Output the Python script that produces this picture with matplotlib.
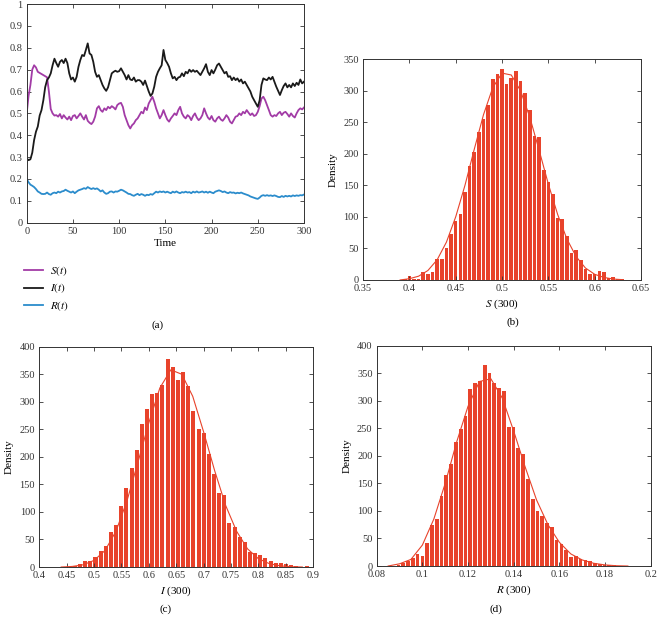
import numpy as np
import matplotlib
matplotlib.use('Agg')
import matplotlib.pyplot as plt

plt.rcParams['font.family'] = 'Liberation Serif'
plt.rcParams['mathtext.fontset'] = 'stix'

t = np.arange(0, 301, 2)

S_t = [0.500, 0.580, 0.630, 0.700, 0.720, 0.710, 0.690, 0.685, 0.680, 0.675,
       0.670, 0.665, 0.600, 0.520, 0.500, 0.490, 0.492, 0.485, 0.497, 0.477,
       0.492, 0.481, 0.472, 0.485, 0.469, 0.488, 0.492, 0.477, 0.488, 0.500,
       0.485, 0.472, 0.492, 0.466, 0.457, 0.451, 0.462, 0.485, 0.523, 0.533,
       0.515, 0.507, 0.523, 0.515, 0.530, 0.523, 0.533, 0.527, 0.518, 0.538,
       0.545, 0.548, 0.530, 0.492, 0.469, 0.446, 0.431, 0.446, 0.454, 0.469,
       0.477, 0.492, 0.507, 0.500, 0.527, 0.515, 0.545, 0.560, 0.576, 0.553,
       0.523, 0.500, 0.477, 0.492, 0.515, 0.492, 0.472, 0.462, 0.477, 0.488,
       0.500, 0.492, 0.515, 0.530, 0.500, 0.485, 0.477, 0.492, 0.485, 0.469,
       0.488, 0.500, 0.481, 0.469, 0.477, 0.492, 0.523, 0.500, 0.481, 0.472,
       0.488, 0.469, 0.462, 0.477, 0.485, 0.472, 0.466, 0.477, 0.492, 0.481,
       0.462, 0.454, 0.469, 0.485, 0.488, 0.500, 0.492, 0.507, 0.500, 0.515,
       0.503, 0.492, 0.500, 0.488, 0.492, 0.507, 0.533, 0.568, 0.576, 0.560,
       0.538, 0.515, 0.492, 0.485, 0.492, 0.488, 0.500, 0.507, 0.492, 0.503,
       0.507, 0.497, 0.485, 0.500, 0.488, 0.481, 0.500, 0.515, 0.523, 0.518,
       0.527]

I_t = [0.294, 0.286, 0.290, 0.320, 0.378, 0.416, 0.440, 0.490, 0.515, 0.560,
       0.620, 0.652, 0.664, 0.683, 0.720, 0.750, 0.730, 0.713, 0.736, 0.744,
       0.730, 0.750, 0.730, 0.683, 0.655, 0.664, 0.645, 0.667, 0.713, 0.744,
       0.767, 0.762, 0.790, 0.820, 0.774, 0.767, 0.736, 0.690, 0.667, 0.675,
       0.652, 0.630, 0.614, 0.603, 0.619, 0.652, 0.683, 0.690, 0.695, 0.690,
       0.693, 0.706, 0.690, 0.675, 0.655, 0.675, 0.655, 0.652, 0.664, 0.645,
       0.652, 0.652, 0.645, 0.630, 0.650, 0.625, 0.600, 0.580, 0.591, 0.622,
       0.667, 0.690, 0.706, 0.720, 0.790, 0.744, 0.730, 0.713, 0.683, 0.660,
       0.667, 0.652, 0.664, 0.667, 0.683, 0.670, 0.690, 0.683, 0.700, 0.690,
       0.698, 0.690, 0.695, 0.685, 0.675, 0.690, 0.706, 0.725, 0.690, 0.675,
       0.698, 0.683, 0.700, 0.720, 0.728, 0.713, 0.698, 0.683, 0.690, 0.667,
       0.670, 0.652, 0.664, 0.652, 0.660, 0.645, 0.655, 0.637, 0.645, 0.630,
       0.614, 0.600, 0.576, 0.560, 0.545, 0.530, 0.560, 0.630, 0.660, 0.655,
       0.652, 0.664, 0.655, 0.667, 0.645, 0.622, 0.603, 0.584, 0.606, 0.625,
       0.637, 0.619, 0.630, 0.619, 0.637, 0.625, 0.640, 0.630, 0.655, 0.637,
       0.645]

R_t = [0.200, 0.185, 0.174, 0.169, 0.163, 0.154, 0.143, 0.138, 0.132, 0.131,
       0.132, 0.138, 0.131, 0.128, 0.135, 0.138, 0.135, 0.142, 0.138, 0.143,
       0.145, 0.151, 0.146, 0.142, 0.138, 0.143, 0.135, 0.142, 0.148, 0.151,
       0.154, 0.158, 0.155, 0.163, 0.158, 0.154, 0.158, 0.154, 0.157, 0.151,
       0.143, 0.148, 0.138, 0.132, 0.135, 0.142, 0.143, 0.138, 0.143, 0.142,
       0.146, 0.151, 0.148, 0.143, 0.138, 0.132, 0.131, 0.126, 0.123, 0.128,
       0.132, 0.126, 0.131, 0.128, 0.123, 0.128, 0.126, 0.131, 0.128, 0.135,
       0.142, 0.138, 0.143, 0.140, 0.143, 0.138, 0.142, 0.138, 0.135, 0.142,
       0.138, 0.143, 0.138, 0.135, 0.140, 0.138, 0.142, 0.138, 0.140, 0.135,
       0.142, 0.138, 0.143, 0.138, 0.140, 0.143, 0.138, 0.142, 0.137, 0.142,
       0.138, 0.135, 0.142, 0.145, 0.148, 0.145, 0.140, 0.143, 0.138, 0.135,
       0.140, 0.137, 0.138, 0.134, 0.137, 0.135, 0.138, 0.134, 0.131, 0.128,
       0.125, 0.120, 0.117, 0.114, 0.111, 0.109, 0.115, 0.123, 0.126, 0.123,
       0.126, 0.123, 0.125, 0.122, 0.125, 0.122, 0.118, 0.117, 0.122, 0.118,
       0.123, 0.120, 0.123, 0.120, 0.125, 0.122, 0.125, 0.123, 0.126, 0.125,
       0.129]

# histograms at t = 300 (first bin centre, bin width, counts)
S_start, S_width = 0.395, 0.005
S_counts = [1, 7, 1, 2, 12, 10, 13, 34, 34, 51, 73, 94, 104, 139, 180, 203,
            235, 256, 277, 318, 326, 335, 311, 321, 331, 315, 297, 270, 229,
            227, 175, 155, 136, 99, 96, 70, 42, 48, 31, 18, 10, 10, 14, 13,
            3, 5, 2, 1]
S_fit_x = [0.39, 0.40, 0.41, 0.42, 0.43, 0.44, 0.45, 0.46, 0.47, 0.48, 0.49,
           0.50, 0.51, 0.52, 0.53, 0.54, 0.55, 0.56, 0.57, 0.58, 0.59, 0.60,
           0.61, 0.62, 0.63]
S_fit_y = [0, 2, 6, 15, 32, 60, 100, 150, 207, 262, 305, 328, 325, 300, 258,
           206, 152, 104, 65, 37, 19, 9, 4, 1.5, 0.5]

I_start, I_width = 0.465, 0.0094
I_counts = [1, 5, 10, 11, 19, 29, 38, 63, 76, 110, 143, 179, 212, 260, 286,
            315, 316, 331, 378, 364, 340, 354, 328, 284, 251, 243, 206, 168,
            135, 130, 79, 72, 55, 46, 27, 25, 22, 16, 11, 8, 7, 5, 4, 2, 0, 2]
I_fit_x = [0.44, 0.46, 0.48, 0.50, 0.52, 0.54, 0.56, 0.58, 0.60, 0.62, 0.64,
           0.66, 0.68, 0.70, 0.72, 0.74, 0.76, 0.78, 0.80, 0.82, 0.84, 0.86,
           0.88]
I_fit_y = [0, 1, 4, 12, 30, 65, 120, 190, 262, 325, 358, 350, 310, 245, 175,
           112, 65, 33, 15, 6, 2, 0.5, 0]

R_start, R_width = 0.0895, 0.0021
R_counts = [2, 6, 10, 14, 22, 19, 42, 75, 85, 127, 165, 185, 226, 249, 272,
            322, 333, 336, 365, 350, 333, 324, 317, 253, 253, 214, 204, 158,
            121, 99, 91, 78, 70, 48, 40, 29, 17, 18, 13, 11, 9, 6, 4, 2, 2, 1]
R_fit_x = [0.085, 0.09, 0.095, 0.10, 0.105, 0.11, 0.115, 0.12, 0.125, 0.13,
           0.135, 0.14, 0.145, 0.15, 0.155, 0.16, 0.165, 0.17, 0.175, 0.18,
           0.185, 0.19]
R_fit_y = [0, 4, 12, 38, 85, 150, 225, 290, 335, 340, 305, 245, 180, 120, 75,
           43, 22, 11, 5, 2, 0.5, 0]

c_S = '#a23ba6'
c_I = '#1a1a1a'
c_R = '#2b8ccc'
c_bar = '#e8432b'

fig = plt.figure(figsize=(6.58, 6.19), dpi=100)


def style(ax):
    ax.tick_params(direction='in', top=True, right=True, labelsize=7.5,
                   length=3, width=0.6, colors='#333333')
    ax.tick_params(axis='x', pad=3)
    ax.tick_params(axis='y', pad=3)
    for s in ax.spines.values():
        s.set_linewidth(0.7)
        s.set_color('#333333')


# (a) sample paths
ax = fig.add_axes([0.0406, 0.6402, 0.4214, 0.3533])
ax.plot(t, S_t, color=c_S, lw=1.3, label='$S(t)$')
ax.plot(t, I_t, color=c_I, lw=1.3, label='$I(t)$')
ax.plot(t, R_t, color=c_R, lw=1.3, label='$R(t)$')
ax.set_xlim(0, 300)
ax.set_ylim(0, 1)
ax.set_xticks(np.arange(0, 301, 50))
ax.set_yticks(np.arange(0, 1.01, 0.1))
ax.set_yticklabels(['0', '0.1', '0.2', '0.3', '0.4', '0.5', '0.6', '0.7',
                    '0.8', '0.9', '1'])
ax.set_xlabel('Time', fontsize=8, labelpad=2)
style(ax)
ax.legend(loc='upper left', bbox_to_anchor=(-0.045, -0.145), frameon=False,
          fontsize=8, handlelength=1.7, labelspacing=0.3, handletextpad=0.6)


def hist_panel(rect, start, width, counts, fx, fy, xlim, xticks, xlabels,
               ylim, yticks, xlabel):
    ax = fig.add_axes(rect)
    centers = start + width * np.arange(len(counts))
    ax.bar(centers, counts, width=width * 0.78, color=c_bar, linewidth=0)
    ax.plot(fx, fy, color=c_bar, lw=0.8)
    ax.set_xlim(*xlim)
    ax.set_ylim(*ylim)
    ax.set_xticks(xticks)
    ax.set_xticklabels(xlabels)
    ax.set_yticks(yticks)
    ax.set_xlabel(xlabel, fontsize=8, labelpad=3)
    ax.set_ylabel('Density', fontsize=8, labelpad=4)
    style(ax)
    return ax


hist_panel([0.5517, 0.5477, 0.4225, 0.3566], S_start, S_width, S_counts,
           S_fit_x, S_fit_y, (0.35, 0.65),
           [0.35, 0.4, 0.45, 0.5, 0.55, 0.6, 0.65],
           ['0.35', '0.4', '0.45', '0.5', '0.55', '0.6', '0.65'],
           (0, 350), np.arange(0, 351, 50), '$S$ (300)')

hist_panel([0.0597, 0.0840, 0.4164, 0.3559], I_start, I_width, I_counts,
           I_fit_x, I_fit_y, (0.4, 0.9),
           np.arange(0.4, 0.901, 0.05),
           ['0.4', '0.45', '0.5', '0.55', '0.6', '0.65', '0.7', '0.75',
            '0.8', '0.85', '0.9'],
           (0, 400), np.arange(0, 401, 50), '$I$ (300)')

hist_panel([0.5725, 0.0856, 0.4164, 0.3559], R_start, R_width, R_counts,
           R_fit_x, R_fit_y, (0.08, 0.2),
           [0.08, 0.1, 0.12, 0.14, 0.16, 0.18, 0.2],
           ['0.08', '0.1', '0.12', '0.14', '0.16', '0.18', '0.2'],
           (0, 400), np.arange(0, 401, 50), '$R$ (300)')

fig.text(0.240, 0.475, '(a)', fontsize=8, ha='center', va='center')
fig.text(0.780, 0.479, '(b)', fontsize=8, ha='center', va='center')
fig.text(0.251, 0.016, '(c)', fontsize=8, ha='center', va='center')
fig.text(0.754, 0.016, '(d)', fontsize=8, ha='center', va='center')

fig.savefig('out.png', dpi=100)
